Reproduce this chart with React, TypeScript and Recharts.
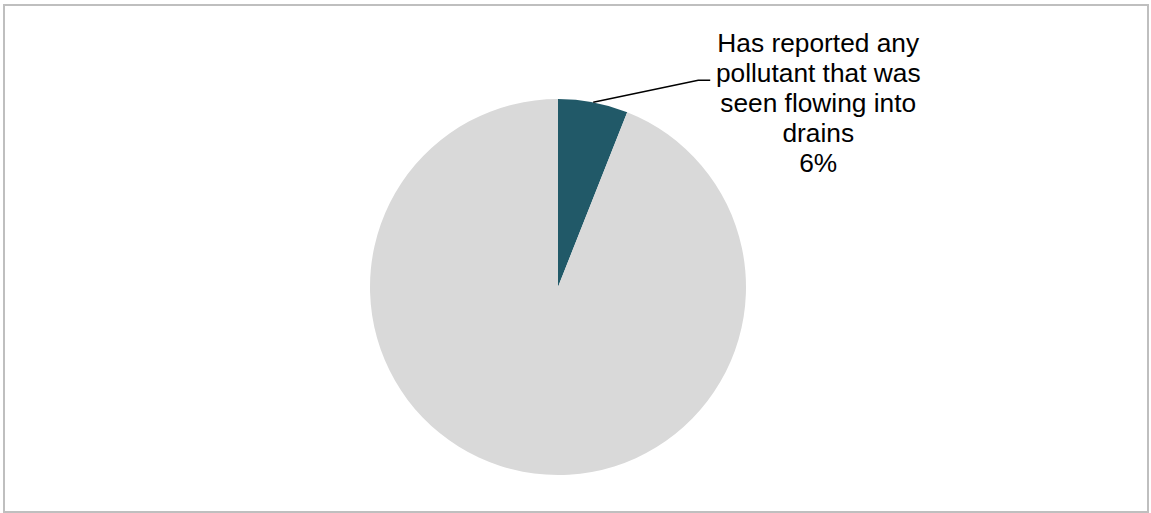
import { Pie, PieChart, Cell } from "recharts";

const categories = [
  "Has reported any pollutant that was seen flowing into drains",
  "Other",
];
const shares = [6, 94];
const colors = ["#215968", "#D9D9D9"];
const labelLines = [
  "Has reported any",
  "pollutant that was",
  "seen flowing into",
  "drains",
];

const data = categories.map((name, i) => ({ name, value: shares[i] }));

const RADIAN = Math.PI / 180;

// only the first slice carries a label with its own leader line
function renderLabel(props: any) {
  const { cx, cy, midAngle, outerRadius, index, value } = props;
  if (index !== 0) return null;
  const sx = cx + outerRadius * Math.cos(-midAngle * RADIAN);
  const sy = cy + outerRadius * Math.sin(-midAngle * RADIAN);
  const ex = sx + 105;
  const ey = sy - 22;
  const hx = ex + 12;
  const tx = hx + 108;
  const firstBaseline = ey - 28;
  return (
    <g>
      <path
        d={`M${sx},${sy}L${ex},${ey}L${hx},${ey}`}
        stroke="#000"
        strokeWidth={1.5}
        fill="none"
      />
      <text
        x={tx}
        textAnchor="middle"
        fontFamily="'Liberation Sans', Arial, sans-serif"
        fontSize={26.3}
        fill="#000"
      >
        {labelLines.map((line, i) => (
          <tspan key={i} x={tx} y={firstBaseline + i * 30}>
            {line}
          </tspan>
        ))}
        <tspan x={tx} y={firstBaseline + labelLines.length * 30}>
          {`${value}%`}
        </tspan>
      </text>
    </g>
  );
}

export default function App() {
  return (
    <div style={{ position: "relative", width: 1151, height: 513 }}>
      <style>{`body{margin:0}`}</style>
      <div
        style={{
          position: "absolute",
          left: 3,
          top: 4,
          width: 1142,
          height: 505,
          border: "2px solid #BFBFBF",
        }}
      />
      <div style={{ position: "absolute", left: 0, top: 0 }}>
        <PieChart
          width={1151}
          height={513}
          margin={{ top: 0, right: 0, bottom: 0, left: 0 }}
        >
          <Pie
            data={data}
            dataKey="value"
            nameKey="name"
            cx={558}
            cy={287}
            outerRadius={188}
            startAngle={90}
            endAngle={-270}
            stroke="none"
            label={renderLabel}
            labelLine={false}
            isAnimationActive={false}
          >
            {data.map((d, i) => (
              <Cell key={d.name} fill={colors[i]} />
            ))}
          </Pie>
        </PieChart>
      </div>
    </div>
  );
}
